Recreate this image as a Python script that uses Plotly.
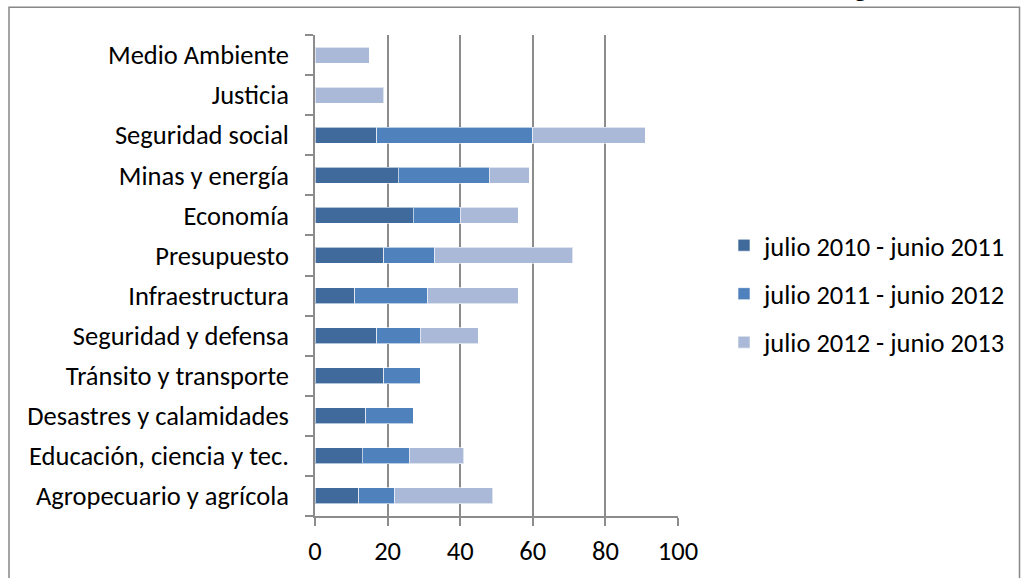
import plotly.graph_objects as go

categories = [
    "Agropecuario y agrícola",
    "Educación, ciencia y tec.",
    "Desastres y calamidades",
    "Tránsito y transporte",
    "Seguridad y defensa",
    "Infraestructura",
    "Presupuesto",
    "Economía",
    "Minas y energía",
    "Seguridad social",
    "Justicia",
    "Medio Ambiente",
]
s2010 = [12, 13, 14, 19, 17, 11, 19, 27, 23, 17, 0, 0]
s2011 = [10, 13, 13, 10, 12, 20, 14, 13, 25, 43, 0, 0]
s2012 = [27, 15, 0, 0, 16, 25, 38, 16, 11, 31, 19, 15]
series_names = ["julio 2010 - junio 2011", "julio 2011 - junio 2012", "julio 2012 - junio 2013"]
colors = ["#3F6A9B", "#4F81BD", "#AAB9D7"]
x_ticks = [0, 20, 40, 60, 80, 100]

FONT = "Carlito, Calibri, Lato, sans-serif"
FS = 26.5
GRID = "#8C8C8C"

fig = go.Figure()
for name, vals, col in zip(series_names, [s2010, s2011, s2012], colors):
    fig.add_trace(go.Bar(
        y=categories, x=vals, name=name, orientation="h",
        marker=dict(color=col, line=dict(color="rgba(255,255,255,0.6)", width=1)),
        legendgroup=name,
    ))

W, H = 1021, 578
L, R, T, B = 315, 678, 35, 516


def px_x(p):
    return (p - L) / (R - L)


def px_y(p):
    return (B - p) / (B - T)


fig.update_layout(
    width=W, height=H,
    margin=dict(l=L, r=W - R, t=T, b=H - B, pad=0, autoexpand=False),
    barmode="stack", bargap=0.6,
    plot_bgcolor="white", paper_bgcolor="white",
    font=dict(family=FONT, size=FS, color="black"),
    showlegend=True,
    legend=dict(x=px_x(724), y=px_y(294), xanchor="left", yanchor="middle",
                traceorder="grouped", tracegroupgap=11,
                font=dict(family=FONT, size=FS), itemwidth=30, bgcolor="rgba(0,0,0,0)"),
    xaxis=dict(range=[0, 100], tickvals=x_ticks, showgrid=True, gridcolor=GRID, gridwidth=1.5,
               zeroline=False, showline=True, linecolor=GRID, linewidth=1.5,
               ticks="outside", ticklen=8, tickcolor=GRID, tickwidth=1.5,
               ticklabelstandoff=2, automargin=False,
               tickfont=dict(family=FONT, size=FS), fixedrange=True),
    yaxis=dict(type="category", categoryorder="array", categoryarray=categories,
               showline=True, linecolor=GRID, linewidth=1.5, ticks="outside",
               tickson="boundaries", ticklen=8, tickcolor=GRID, tickwidth=1.5,
               ticklabelstandoff=19, automargin=False,
               showgrid=False, tickfont=dict(family=FONT, size=FS), fixedrange=True),
)

# outer frame of the chart object
fig.add_shape(type="rect", xref="paper", yref="paper",
              x0=px_x(9), x1=px_x(1019.5), y0=px_y(620), y1=px_y(7.2),
              line=dict(color="#878787", width=1.5), fillcolor="rgba(0,0,0,0)", layer="below")

# fragment of surrounding document heading, clipped at the top edge
fig.add_annotation(text="<b>g</b>", xref="paper", yref="paper", x=px_x(860), y=px_y(3),
                   xanchor="center", yanchor="bottom", showarrow=False,
                   font=dict(family="Liberation Serif", size=22, color="black"))

fig.write_html("out.html",
               config={"displayModeBar": False},
               post_script="document.body.style.margin='0';document.body.style.overflow='hidden';")
